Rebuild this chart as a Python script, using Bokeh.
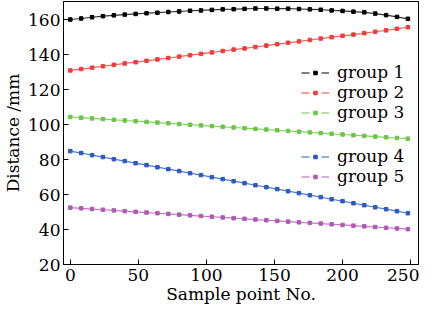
from bokeh.plotting import figure
from bokeh.models import Range1d, FixedTicker, Legend, LegendItem
from bokeh.embed import file_html
from bokeh.resources import INLINE

sample_x = [0, 8, 16, 24, 32, 40, 48, 56, 64, 72, 80, 88, 96, 104, 112, 120,
            128, 136, 144, 152, 160, 168, 176, 184, 192, 200, 208, 216, 224, 232, 240, 248]

group1 = [160.0, 160.6, 161.3, 161.9, 162.4, 162.8, 163.2, 163.6, 163.9, 164.3, 164.6, 165.0,
          165.2, 165.5, 165.8, 165.9, 166.1, 166.3, 166.3, 166.2, 166.2, 166.0, 165.8, 165.6,
          165.2, 164.9, 164.5, 164.1, 163.4, 162.5, 161.5, 160.4]
group2 = [130.9, 131.7, 132.5, 133.3, 134.1, 134.9, 135.6, 136.4, 137.2, 138.0, 138.8, 139.6,
          140.4, 141.2, 142.0, 142.8, 143.5, 144.3, 145.1, 145.9, 146.7, 147.5, 148.3, 149.1,
          149.9, 150.7, 151.4, 152.2, 153.0, 153.8, 154.7, 155.6]
group3 = [104.3, 103.9, 103.5, 103.1, 102.7, 102.3, 101.9, 101.5, 101.1, 100.7, 100.3, 99.9,
          99.5, 99.1, 98.7, 98.3, 97.9, 97.5, 97.1, 96.7, 96.3, 95.9, 95.5, 95.1,
          94.7, 94.3, 93.9, 93.5, 93.1, 92.7, 92.3, 91.9]
group4 = [84.8, 83.7, 82.5, 81.4, 80.2, 79.1, 77.9, 76.8, 75.6, 74.5, 73.4, 72.2,
          71.1, 69.9, 68.8, 67.6, 66.5, 65.3, 64.2, 63.1, 61.9, 60.8, 59.6, 58.5,
          57.3, 56.2, 55.0, 53.9, 52.7, 51.6, 50.5, 49.3]
group5 = [52.5, 52.1, 51.7, 51.3, 50.9, 50.5, 50.1, 49.7, 49.3, 48.9, 48.5, 48.1,
          47.7, 47.3, 46.9, 46.5, 46.1, 45.7, 45.3, 44.9, 44.5, 44.1, 43.8, 43.4,
          43.0, 42.6, 42.2, 41.8, 41.4, 41.0, 40.6, 40.2]

series_names = ["group 1", "group 2", "group 3", "group 4", "group 5"]
series_values = [group1, group2, group3, group4, group5]
colors = ["#000000", "#f23c3c", "#6cc644", "#2a5bbf", "#b05ab4"]

x_ticks = [0, 50, 100, 150, 200, 250]
y_ticks = [20, 40, 60, 80, 100, 120, 140, 160]

FONT = "DejaVu Serif"

p = figure(width=419, height=306, output_backend="svg", toolbar_location=None,
           x_range=Range1d(-5, 255.8), y_range=Range1d(20, 170.3),
           min_border_left=56, min_border_right=1, min_border_top=1, min_border_bottom=40)

p.grid.visible = False
p.outline_line_color = "black"
p.outline_line_width = 1
p.background_fill_color = "white"

for ax in (p.xaxis[0], p.yaxis[0]):
    ax.axis_line_color = "black"
    ax.major_tick_line_color = "black"
    ax.minor_tick_line_color = None
    ax.major_tick_in = 5
    ax.major_tick_out = 0
    ax.major_label_text_font = FONT
    ax.major_label_text_font_size = "17px"
    ax.major_label_text_color = "black"
    ax.axis_label_text_font = FONT
    ax.axis_label_text_font_size = "17px"
    ax.axis_label_text_font_style = "normal"
    ax.axis_label_text_color = "black"

p.xaxis.ticker = FixedTicker(ticks=x_ticks)
p.yaxis.ticker = FixedTicker(ticks=y_ticks)
p.xaxis.axis_label = "Sample point No."
p.yaxis.axis_label = "Distance /mm"
p.xaxis.major_label_standoff = 4
p.xaxis.axis_label_standoff = 0
p.yaxis.major_label_standoff = 3
p.yaxis.axis_label_standoff = 2

# off-frame coordinates so the legend proxies are never seen inside the plot
proxy_x = [-1000, -999]
proxy_y = [-1000, -1000]

items = []
for name, vals, c in zip(series_names, series_values, colors):
    p.line(sample_x, vals, line_color=c, line_width=1.2, line_alpha=0.8)
    p.scatter(sample_x, vals, marker="square", size=3.5, fill_color=c, line_color=c)
    lg_line = p.line(proxy_x, proxy_y, line_color=c, line_dash="8 12", line_width=1.2)
    lg_mark = p.scatter(proxy_x, proxy_y, marker="square", size=3.5, fill_color=c, line_color=c)
    items.append(LegendItem(label=name, renderers=[lg_line, lg_mark]))

def make_legend(its, loc):
    return Legend(items=its, location=loc, glyph_width=28, glyph_height=9,
                  label_height=20, label_standoff=8, spacing=0, padding=0, margin=0,
                  border_line_color=None, background_fill_alpha=0,
                  label_text_font=FONT, label_text_font_size="17px",
                  label_text_color="black")

p.add_layout(make_legend(items[:3], (238, 142)))
p.add_layout(make_legend(items[3:], (238, 78)))

open("out.html", "w").write(file_html(p, INLINE))
